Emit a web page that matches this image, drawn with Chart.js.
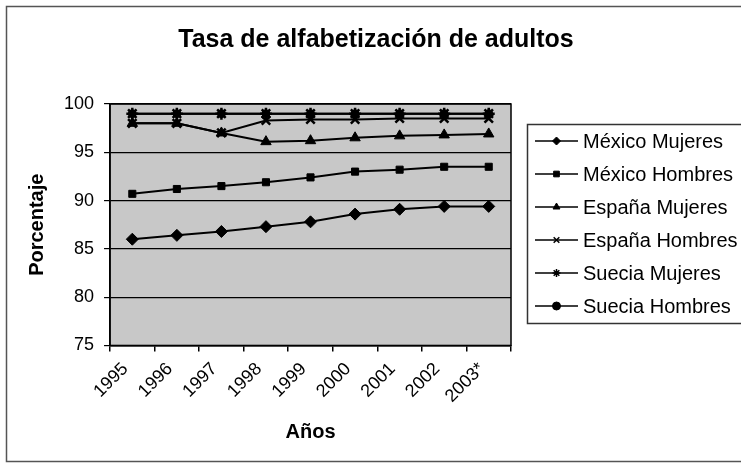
<!DOCTYPE html>
<html>
<head>
<meta charset="utf-8">
<script src="https://cdn.jsdelivr.net/npm/chart.js@4.4.1/dist/chart.umd.min.js"></script>
<style>
  html, body { margin: 0; padding: 0; background: #ffffff; }
  #wrap { width: 741px; height: 466px; position: relative; }
</style>
</head>
<body>
<div id="wrap"><canvas id="c" width="741" height="466"></canvas></div>
<script>
const chartTitle = 'Tasa de alfabetización de adultos';
const xTitle = 'Años';
const yTitle = 'Porcentaje';
const years = ['1995', '1996', '1997', '1998', '1999', '2000', '2001', '2002', '2003*'];
const yTicks = [75, 80, 85, 90, 95, 100];

const seriesNames = ['México Mujeres', 'México Hombres', 'España Mujeres', 'España Hombres', 'Suecia Mujeres', 'Suecia Hombres'];
const mexicoMujeres = [86.0, 86.4, 86.8, 87.3, 87.8, 88.6, 89.1, 89.4, 89.4];
const mexicoHombres = [90.7, 91.2, 91.5, 91.9, 92.4, 93.0, 93.2, 93.5, 93.5];
const espanaMujeres = [98.0, 98.0, 97.0, 96.1, 96.2, 96.5, 96.7, 96.8, 96.9];
const espanaHombres = [98.0, 98.0, 97.0, 98.3, 98.4, 98.4, 98.5, 98.5, 98.5];
const sueciaMujeres = [99.0, 99.0, 99.0, 99.0, 99.0, 99.0, 99.0, 99.0, 99.0];
const sueciaHombres = [99.0, 99.0, 99.0, 99.0, 99.0, 99.0, 99.0, 99.0, 99.0];

const markerStyles = ['rectRot', 'rect', 'triangle', 'crossRot', 'star', 'circle'];
const markerRadius = [6, 5, 6, 6, 6, 4];
const values = [mexicoMujeres, mexicoHombres, espanaMujeres, espanaHombres, sueciaMujeres, sueciaHombres];

const FONT = '"Liberation Sans", Arial, Helvetica, sans-serif';

const datasets = seriesNames.map((name, i) => ({
  label: name,
  data: values[i],
  borderColor: '#000',
  backgroundColor: '#000',
  borderWidth: 2,
  pointStyle: markerStyles[i],
  pointRadius: markerRadius[i],
  pointHoverRadius: markerRadius[i],
  pointBackgroundColor: '#000',
  pointBorderColor: '#000',
  pointBorderWidth: (markerStyles[i] === 'crossRot' || markerStyles[i] === 'star') ? 2.5 : 1,
  tension: 0,
  fill: false
}));

const framePlugin = {
  id: 'framePlugin',
  beforeDraw(chart) {
    const ctx = chart.ctx;
    const a = chart.chartArea;
    ctx.save();
    ctx.fillStyle = '#ffffff';
    ctx.fillRect(0, 0, chart.width, chart.height);
    ctx.strokeStyle = '#555';
    ctx.lineWidth = 1.5;
    ctx.strokeRect(6.5, 6.5, chart.width + 10, 455);
    ctx.fillStyle = '#c8c8c8';
    ctx.fillRect(a.left, a.top, a.right - a.left, a.bottom - a.top);
    ctx.fillStyle = '#000';
    ctx.font = 'bold 25px ' + FONT;
    ctx.textAlign = 'center';
    ctx.textBaseline = 'middle';
    ctx.fillText(chartTitle, 376, 40);
    ctx.restore();
  },
  afterDatasetsDraw(chart) {
    const ctx = chart.ctx;
    const a = chart.chartArea;
    ctx.save();
    ctx.strokeStyle = '#000';
    ctx.lineWidth = 1.5;
    ctx.strokeRect(a.left, a.top, a.right - a.left, a.bottom - a.top);
    ctx.restore();
  },
  afterDraw(chart) {
    const ctx = chart.ctx;
    ctx.save();
    ctx.strokeStyle = '#333';
    ctx.lineWidth = 1.5;
    ctx.strokeRect(527.5, 124.5, 230, 199);
    ctx.font = '20px ' + FONT;
    ctx.textBaseline = 'middle';
    ctx.textAlign = 'left';
    chart.data.datasets.forEach((ds, i) => {
      const y = 141 + 33 * i;
      ctx.strokeStyle = '#000';
      ctx.fillStyle = '#000';
      ctx.lineWidth = 1.5;
      ctx.beginPath();
      ctx.moveTo(535, y);
      ctx.lineTo(578, y);
      ctx.stroke();
      ctx.lineWidth = (ds.pointStyle === 'crossRot' || ds.pointStyle === 'star') ? 1.5 : 1;
      Chart.helpers.drawPoint(ctx, { pointStyle: ds.pointStyle, radius: 4, borderWidth: ctx.lineWidth, rotation: 0 }, 556.5, y);
      ctx.fillStyle = '#000';
      ctx.fillText(ds.label, 583, y + 1);
    });
    ctx.restore();
  }
};

new Chart(document.getElementById('c'), {
  type: 'line',
  data: { labels: years, datasets },
  plugins: [framePlugin],
  options: {
    responsive: false,
    animation: false,
    events: [],
    layout: { padding: { left: 25, right: 230, top: 104, bottom: 18 } },
    plugins: {
      legend: { display: false },
      tooltip: { enabled: false },
      title: { display: false }
    },
    scales: {
      x: {
        type: 'category',
        offset: true,
        border: { display: true, color: '#000', width: 1.5 },
        grid: { display: true, drawOnChartArea: false, drawTicks: true, tickLength: 6, offset: true, color: '#000', lineWidth: 1.5 },
        ticks: { color: '#000', font: { family: FONT, size: 18 }, minRotation: 45, maxRotation: 45, padding: 7, labelOffset: -7, autoSkip: false },
        title: { display: true, text: xTitle, color: '#000', font: { family: FONT, size: 20, weight: 'bold' }, padding: { top: 6, bottom: 4 } }
      },
      y: {
        min: yTicks[0],
        max: yTicks[yTicks.length - 1],
        afterBuildTicks(scale) { scale.ticks = yTicks.map(v => ({ value: v })); },
        border: { display: true, color: '#000', width: 1.5 },
        grid: { display: true, drawOnChartArea: true, drawTicks: true, tickLength: 6, color: '#000', lineWidth: 1.2 },
        ticks: { color: '#000', font: { family: FONT, size: 18 }, padding: 10 },
        title: { display: true, text: yTitle, color: '#000', font: { family: FONT, size: 20, weight: 'bold' }, padding: { top: 0, bottom: 5 } }
      }
    }
  }
});
</script>
</body>
</html>
